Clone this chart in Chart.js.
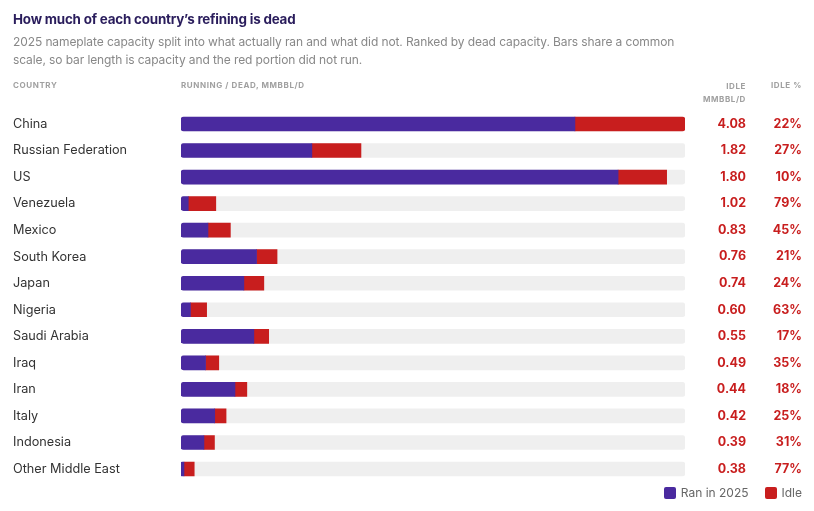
<!DOCTYPE html>
<html>
<head>
<meta charset="utf-8">
<script src="https://cdn.jsdelivr.net/npm/chart.js@4.4.1/dist/chart.umd.min.js"></script>
<style>
  html, body { margin:0; padding:0; background:#fff; }
  body { width:814px; height:511px; position:relative; overflow:hidden; font-family: Inter, "Noto Sans", sans-serif; }
  #c { position:absolute; left:0; top:0; }
  .t { position:absolute; white-space:nowrap; }
  #title { left:13px; top:11px; font-size:13.4px; font-weight:700; color:#2a1d5c; letter-spacing:-0.2px; }
  #sub { left:13px; top:33px; font-size:12px; color:#888; line-height:18px; letter-spacing:-0.1px; }
  .hd { font-size:8px; font-weight:700; color:#a0a0a0; letter-spacing:0.6px; line-height:13px; }
  #leg { right:12px; top:485px; font-size:12px; color:#666; display:flex; align-items:center; }
  .sw { width:12px; height:12px; border-radius:2px; display:inline-block; margin-right:5px; }
</style>
</head>
<body>
<canvas id="c" width="814" height="511"></canvas>
<div class="t" id="title">How much of each country’s refining is dead</div>
<div class="t" id="sub">2025 nameplate capacity split into what actually ran and what did not. Ranked by dead capacity. Bars share a common<br>scale, so bar length is capacity and the red portion did not run.</div>
<div class="t hd" style="left:13px;top:79px;">COUNTRY</div>
<div class="t hd" style="left:181px;top:79px;">RUNNING / DEAD, MMBBL/D</div>
<div class="t hd" style="right:68px;top:80px;text-align:right;">IDLE<br>MMBBL/D</div>
<div class="t hd" style="right:12px;top:79px;text-align:right;">IDLE %</div>
<div class="t" id="leg"><span class="sw" style="background:#4a2a9f"></span><span>Ran in 2025</span><span class="sw" style="background:#c81e1e;margin-left:16px"></span><span>Idle</span></div>
<script>
const countries = ["China","Russian Federation","US","Venezuela","Mexico","South Korea","Japan","Nigeria","Saudi Arabia","Iraq","Iran","Italy","Indonesia","Other Middle East"];
const ranValues = [14.6, 4.85, 16.2, 0.27, 1.0, 2.8, 2.33, 0.35, 2.7, 0.91, 2.0, 1.25, 0.85, 0.11];
const idleValues = [4.08, 1.82, 1.80, 1.02, 0.83, 0.76, 0.74, 0.60, 0.55, 0.49, 0.44, 0.42, 0.39, 0.38];
const idlePctLabels = ["22%","27%","10%","79%","45%","21%","24%","63%","17%","35%","18%","25%","31%","77%"];

const totals = ranValues.map((r,i)=>r+idleValues[i]);
const maxCap = Math.max(...totals);
const trackValues = countries.map(()=>maxCap);

const PURPLE = '#4a2a9f', RED = '#c81e1e', TRACK = '#efefef';

const colsPlugin = {
  id:'cols',
  afterDatasetsDraw(chart){
    const ctx = chart.ctx, y = chart.scales.y;
    ctx.save();
    ctx.fillStyle = RED;
    ctx.textAlign = 'right';
    ctx.textBaseline = 'middle';
    ctx.font = '700 12.5px Inter, "Noto Sans", sans-serif';
    countries.forEach((c,i)=>{
      const py = y.getPixelForValue(i);
      ctx.fillText(idleValues[i].toFixed(2), 746, py);
      ctx.fillText(idlePctLabels[i], 802, py);
    });
    ctx.restore();
  }
};

new Chart(document.getElementById('c'), {
  type:'bar',
  data:{
    labels: countries,
    datasets:[
      { label:'Ran in 2025', data: ranValues, backgroundColor: PURPLE, stack:'a', grouped:false, order:1,
        borderRadius:{topLeft:3,bottomLeft:3,topRight:0,bottomRight:0}, borderSkipped:false, barThickness:14 },
      { label:'Idle', data: idleValues, backgroundColor: RED, stack:'a', grouped:false, order:1,
        borderRadius:(ctx)=>{ const i=ctx.dataIndex; const full = totals[i] >= maxCap-1e-9; return {topLeft:0,bottomLeft:0,topRight: full?3:0,bottomRight: full?3:0}; },
        borderSkipped:false, barThickness:14 },
      { label:'track', data: trackValues, backgroundColor: TRACK, stack:'b', grouped:false, order:2,
        borderRadius:3, borderSkipped:false, barThickness:14 }
    ]
  },
  options:{
    indexAxis:'y',
    responsive:false,
    animation:false,
    layout:{ padding:{ left:13, right:129, top:110.7, bottom:28.7 } },
    plugins:{ legend:{display:false}, tooltip:{enabled:false}, title:{display:false} },
    scales:{
      x:{ stacked:true, display:false, min:0, max:maxCap },
      y:{ stacked:true, grid:{display:false}, border:{display:false},
          ticks:{ crossAlign:'far', color:'#333', font:{ family:'Inter, "Noto Sans", sans-serif', size:12.7 }, padding:0 },
          afterFit(scale){ scale.width = 168; } }
    }
  },
  plugins:[colsPlugin]
});
</script>
</body>
</html>
